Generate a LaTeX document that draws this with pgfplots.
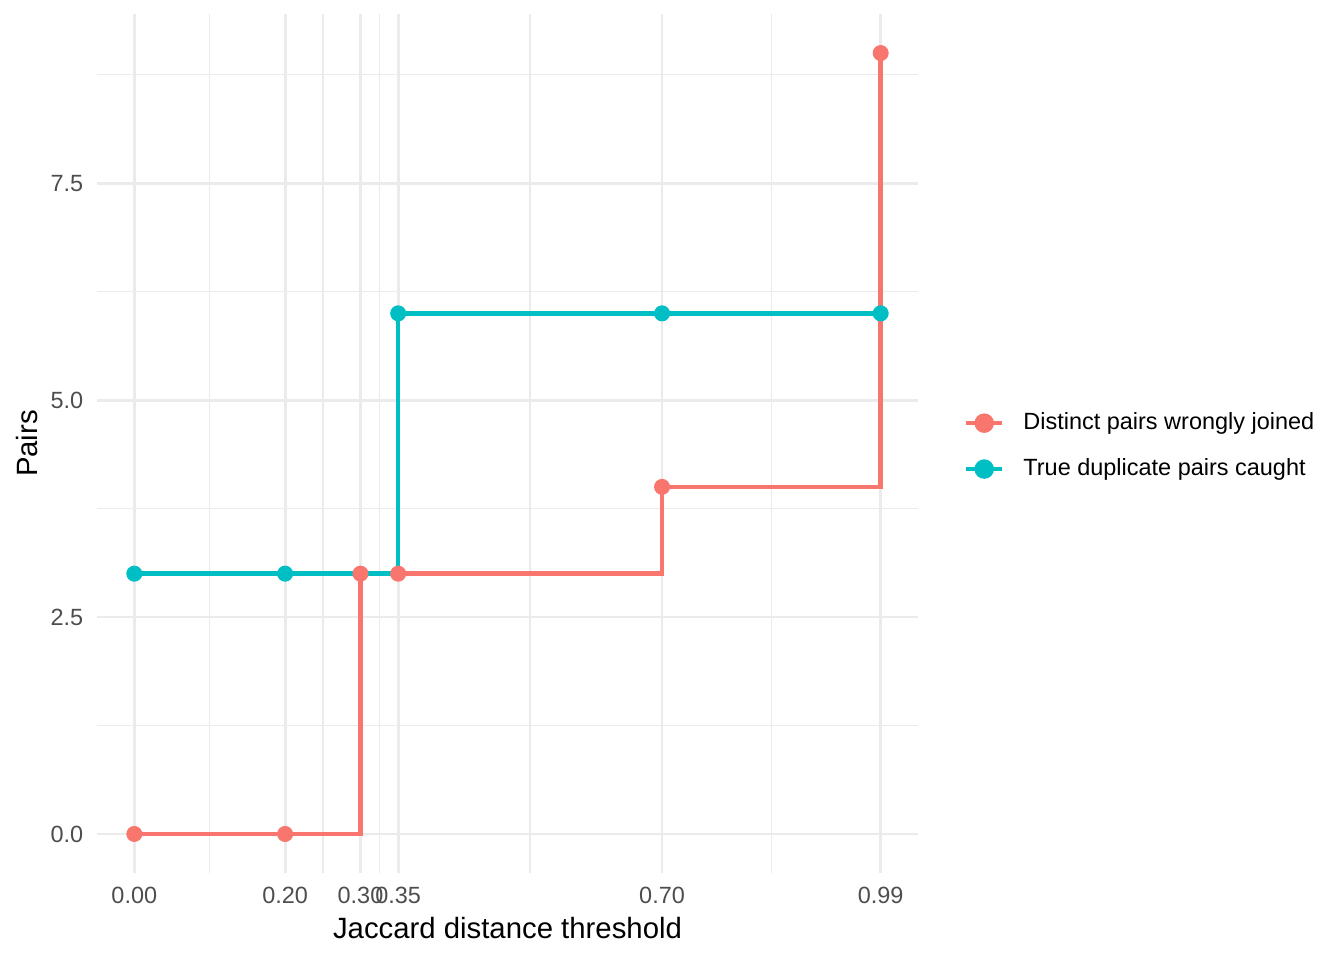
\documentclass[border=0pt]{standalone}
\usepackage{fontspec}
\setmainfont{Liberation Sans}
\usepackage{pgfplots}
\pgfplotsset{compat=1.18}
\definecolor{cred}{HTML}{F8766D}
\definecolor{cteal}{HTML}{00BFC4}
\definecolor{gridc}{HTML}{EBEBEB}
\definecolor{tickc}{HTML}{4D4D4D}
\begin{document}
\begin{tikzpicture}
\path[use as bounding box] (0,0) rectangle (504pt,-360pt);
\begin{axis}[
 at={(36.375pt,-327.375pt)}, anchor=south west,
 scale only axis, width=307.875pt, height=322.125pt,
 xmin=-0.0495, xmax=1.0395, ymin=-0.45, ymax=9.45,
 axis line style={draw=none},
 major tick length=0pt, minor tick length=0pt,
 xtick={0,0.2,0.3,0.35,0.7,0.99},
 xticklabels={0.00,0.20,0.30,0.35,0.70,0.99},
 minor xtick={0.1,0.25,0.325,0.525,0.845},
 ytick={0,2.5,5,7.5}, yticklabels={0.0,2.5,5.0,7.5},
 minor ytick={1.25,3.75,6.25,8.75},
 grid=both,
 major grid style={gridc, line width=1.07pt},
 minor grid style={gridc, line width=0.53pt},
 tick label style={font=\fontsize{8.8}{10}\selectfont, text=tickc, inner sep=0pt},
 xticklabel style={anchor=north, yshift=-4.95pt},
 yticklabel style={anchor=east, xshift=-4.95pt},
 xlabel={Jaccard distance threshold}, ylabel={Pairs},
 label style={font=\fontsize{11}{13}\selectfont, inner sep=0pt},
 xlabel style={at={(axis description cs:0.5,-0.051)}, anchor=north},
 ylabel style={at={(axis description cs:-0.0719,0.5)}, anchor=south},
 legend cell align=left,
 legend style={at={(axis description cs:1.056,0.497)}, anchor=west, draw=none, fill=none,
   inner sep=0pt, outer sep=0pt, font=\fontsize{8.8}{10}\selectfont,
   row sep=9.35pt, column sep=0pt, nodes={inner sep=0pt}},
 legend image code/.code={
   \draw[#1, line width=1.7pt] (0pt,0pt) -- (13.5pt,0pt);
   \fill[#1] (6.75pt,0pt) circle (2.8pt);
   \path (20.6pt,0pt);
 },
]
\addplot[cred, line width=1.7pt, const plot, mark=none] coordinates {
 (0,0) (0.2,0) (0.3,3) (0.35,3) (0.7,4) (0.99,9)};
\addlegendentry{Distinct pairs wrongly joined}
\addplot[cteal, line width=1.7pt, const plot, mark=none] coordinates {
 (0,3) (0.2,3) (0.35,6) (0.7,6) (0.99,6)};
\addlegendentry{True duplicate pairs caught}
\addplot[cred, only marks, mark=*, mark size=2.8pt, forget plot] coordinates {
 (0,0) (0.2,0) (0.3,3) (0.35,3) (0.7,4) (0.99,9)};
\addplot[cteal, only marks, mark=*, mark size=2.8pt, forget plot] coordinates {
 (0,3) (0.2,3) (0.35,6) (0.7,6) (0.99,6)};
\end{axis}
\end{tikzpicture}
\end{document}
